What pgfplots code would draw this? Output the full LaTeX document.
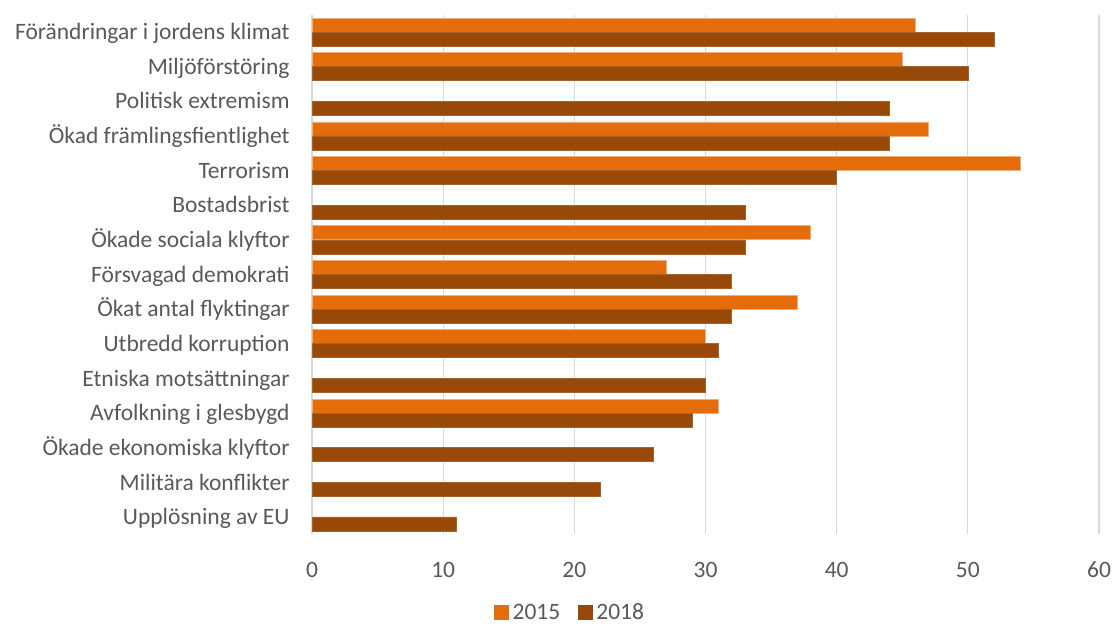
\documentclass[border=0pt]{standalone}
\usepackage{fontspec}
\setmainfont{Carlito}
\usepackage{pgfplots}
\pgfplotsset{compat=1.18}
\definecolor{c15}{HTML}{E46C0A}
\definecolor{c18}{HTML}{984807}
\definecolor{txt}{HTML}{595959}
\definecolor{grd}{HTML}{D9D9D9}
\begin{document}
\begin{tikzpicture}
\useasboundingbox (0,0) rectangle (1115pt,627pt);
\begin{axis}[
  at={(312pt,92.7pt)}, anchor=south west,
  scale only axis, width=787pt, height=519.6pt,
  xmin=0, xmax=60, ymin=-0.5, ymax=14.5,
  xtick={0,10,...,60},
  ytick={0,...,14},
  yticklabels={Upplösning av EU,Militära konflikter,Ökade ekonomiska klyftor,Avfolkning i glesbygd,Etniska motsättningar,Utbredd korruption,Ökat antal flyktingar,Försvagad demokrati,Ökade sociala klyftor,Bostadsbrist,Terrorism,Ökad främlingsfientlighet,Politisk extremism,Miljöförstöring,Förändringar i jordens klimat},
  axis line style={draw=none},
  tick style={draw=none},
  xmajorgrids, major grid style={color=grd, line width=1.3pt},
  /pgf/number format/assume math mode=true,
  tick label style={font=\fontsize{23.5}{28}\selectfont, text=txt},
  yticklabel style={anchor=base east, inner sep=0pt, xshift=-18pt, yshift=-7.7pt},
  xticklabel style={anchor=base, inner sep=0pt, yshift=-42.7pt},
  xbar, bar width=14pt,
  legend columns=2,
  legend style={at={(axis description cs:0.328,-0.150)}, anchor=center, draw=none, fill=none,
    font=\fontsize{23.5}{28}\selectfont, text=txt,
    /tikz/every odd column/.append style={column sep=2pt},
    /tikz/every even column/.append style={column sep=16pt}},
]
\addplot[fill=c15, draw=c15!55!white, line width=0.8pt, bar shift=7pt,
  legend image code/.code={\fill[c15] (0pt,-6.8pt) rectangle (13.5pt,6.8pt);}]
  coordinates {(46,14) (45,13) (47,11) (54,10) (38,8) (27,7) (37,6) (30,5) (31,3)};
\addplot[fill=c18, draw=c18!85!white, line width=0.6pt, bar shift=-7pt,
  legend image code/.code={\fill[c18] (0pt,-6.8pt) rectangle (13.5pt,6.8pt);}]
  coordinates {(52,14) (50,13) (44,12) (44,11) (40,10) (33,9) (33,8) (32,7) (32,6) (31,5) (30,4) (29,3) (26,2) (22,1) (11,0)};
\legend{2015,2018}
\end{axis}
\end{tikzpicture}
\end{document}
